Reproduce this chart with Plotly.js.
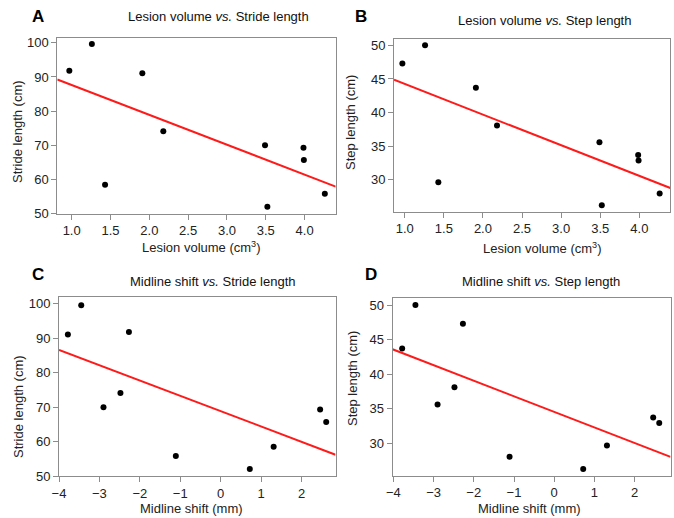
<!DOCTYPE html>
<html>
<head>
<meta charset="utf-8">
<script src="https://cdn.plot.ly/plotly-3.0.1.min.js"></script>
<style>html,body{margin:0;padding:0;background:#fff;}#chart{width:674px;height:518px;}</style>
</head>
<body>
<div id="chart"></div>
<script>
const lesionVolume = [0.97, 1.26, 1.43, 1.91, 2.18, 3.49, 3.52, 3.985, 3.99, 4.26];
const midlineShift = [-2.27, -3.45, 1.31, -3.78, -2.48, -2.90, 0.72, 2.46, 2.61, -1.11];
const strideLength = [91.8, 99.6, 58.5, 91.1, 74.1, 70.0, 52.0, 69.3, 65.7, 55.8];
const stepLength   = [47.3, 50.0, 29.66, 43.7, 38.1, 35.6, 26.25, 33.7, 32.9, 28.0];

const panelLabels = ['A', 'B', 'C', 'D'];
const panelTitles = [
  'Lesion volume <i>vs.</i> Stride length',
  'Lesion volume <i>vs.</i> Step length',
  'Midline shift <i>vs.</i> Stride length',
  'Midline shift <i>vs.</i> Step length'
];
const xTitles = ['Lesion volume (cm<sup>3</sup>)', 'Lesion volume (cm<sup>3</sup>)', 'Midline shift (mm)', 'Midline shift (mm)'];
const yTitles = ['Stride length (cm)', 'Step length (cm)', 'Stride length (cm)', 'Step length (cm)'];

const W = 674, H = 518;
const px = v => v / W;
const py = v => 1 - v / H;

const panels = [
  {x: lesionVolume, y: strideLength, box: [57.3, 335.7, 38.3, 213.7], xr: [0.815, 4.40], yr: [50, 101.3], xt: [1.0,1.5,2.0,2.5,3.0,3.5,4.0], yt: [50,60,70,80,90,100],
   lab: [38, 16], ttl: [218, 16], xtl: [201, 247], ytl: [18, 132]},
  {x: lesionVolume, y: stepLength, box: [394, 670.3, 39, 211.7], xr: [0.863, 4.396], yr: [25.28, 50.94], xt: [1.0,1.5,2.0,2.5,3.0,3.5,4.0], yt: [30,35,40,45,50],
   lab: [361, 16], ttl: [544, 20], xtl: [542, 248], ytl: [351, 123]},
  {x: midlineShift, y: strideLength, box: [59, 335.5, 297.3, 476], xr: [-4.0, 2.84], yr: [50, 101.9], xt: [-4,-3,-2,-1,0,1,2], yt: [50,60,70,80,90,100],
   lab: [38, 274], ttl: [212, 281], xtl: [191, 508], ytl: [18, 407]},
  {x: midlineShift, y: stepLength, box: [392.5, 670.5, 298.3, 475.7], xr: [-4.02, 2.89], yr: [25.27, 50.97], xt: [-4,-3,-2,-1,0,1,2], yt: [30,35,40,45,50],
   lab: [371, 274], ttl: [541, 281], xtl: [529, 508], ytl: [352, 379]}
];

function fit(xs, ys) {
  const n = xs.length;
  const mx = xs.reduce((a, b) => a + b, 0) / n;
  const my = ys.reduce((a, b) => a + b, 0) / n;
  let sxy = 0, sxx = 0;
  for (let i = 0; i < n; i++) { sxy += (xs[i] - mx) * (ys[i] - my); sxx += (xs[i] - mx) ** 2; }
  const b = sxy / sxx;
  return {a: my - b * mx, b: b};
}

const traces = [];
const layout = {
  width: W, height: H, margin: {l: 0, r: 0, t: 0, b: 0},
  paper_bgcolor: '#fff', plot_bgcolor: '#fff', showlegend: false,
  font: {family: 'Liberation Sans, Arial, sans-serif', color: '#222', size: 13},
  annotations: []
};

panels.forEach((p, i) => {
  const k = i === 0 ? '' : String(i + 1);
  const xa = 'x' + k, ya = 'y' + k;
  const f = fit(p.x, p.y);
  traces.push({
    x: [p.xr[0], p.xr[1]], y: [f.a + f.b * p.xr[0], f.a + f.b * p.xr[1]],
    xaxis: xa, yaxis: ya, mode: 'lines', type: 'scatter',
    line: {color: '#ff1a1a', width: 2}, hoverinfo: 'skip'
  });
  traces.push({
    x: p.x, y: p.y, xaxis: xa, yaxis: ya, mode: 'markers', type: 'scatter',
    marker: {color: '#000', size: 6}, cliponaxis: false
  });
  const axCommon = {
    showgrid: false, zeroline: false, showline: true, mirror: true,
    linecolor: '#8c8c8c', linewidth: 1, ticks: 'outside', ticklen: 5,
    tickcolor: '#8c8c8c', tickwidth: 1, tickfont: {size: 13, color: '#222'}, fixedrange: true
  };
  layout['xaxis' + k] = Object.assign({}, axCommon, {
    domain: [px(p.box[0]), px(p.box[1])], range: p.xr, anchor: ya,
    tickmode: 'array', tickvals: p.xt,
    ticktext: p.xt.map(v => (i < 2 ? v.toFixed(1) : (v < 0 ? '\u2212' + Math.abs(v) : String(v))))
  });
  layout['yaxis' + k] = Object.assign({}, axCommon, {
    domain: [py(p.box[3]), py(p.box[2])], range: p.yr, anchor: xa,
    tickmode: 'array', tickvals: p.yt
  });
  layout.annotations.push(
    {text: '<b>' + panelLabels[i] + '</b>', x: px(p.lab[0]), y: py(p.lab[1]), xref: 'paper', yref: 'paper',
     showarrow: false, xanchor: 'center', yanchor: 'middle', font: {size: 17, color: '#000', family: 'Liberation Sans, Arial, sans-serif'}},
    {text: panelTitles[i], x: px(p.ttl[0]), y: py(p.ttl[1]), xref: 'paper', yref: 'paper',
     showarrow: false, xanchor: 'center', yanchor: 'middle', font: {size: 13, color: '#111'}},
    {text: xTitles[i], x: px(p.xtl[0]), y: py(p.xtl[1]), xref: 'paper', yref: 'paper',
     showarrow: false, xanchor: 'center', yanchor: 'middle', font: {size: 13, color: '#222'}},
    {text: yTitles[i], x: px(p.ytl[0]), y: py(p.ytl[1]), xref: 'paper', yref: 'paper', textangle: -90,
     showarrow: false, xanchor: 'center', yanchor: 'middle', font: {size: 13, color: '#222'}}
  );
});

Plotly.newPlot('chart', traces, layout, {displayModeBar: false, staticPlot: true});
</script>
</body>
</html>
